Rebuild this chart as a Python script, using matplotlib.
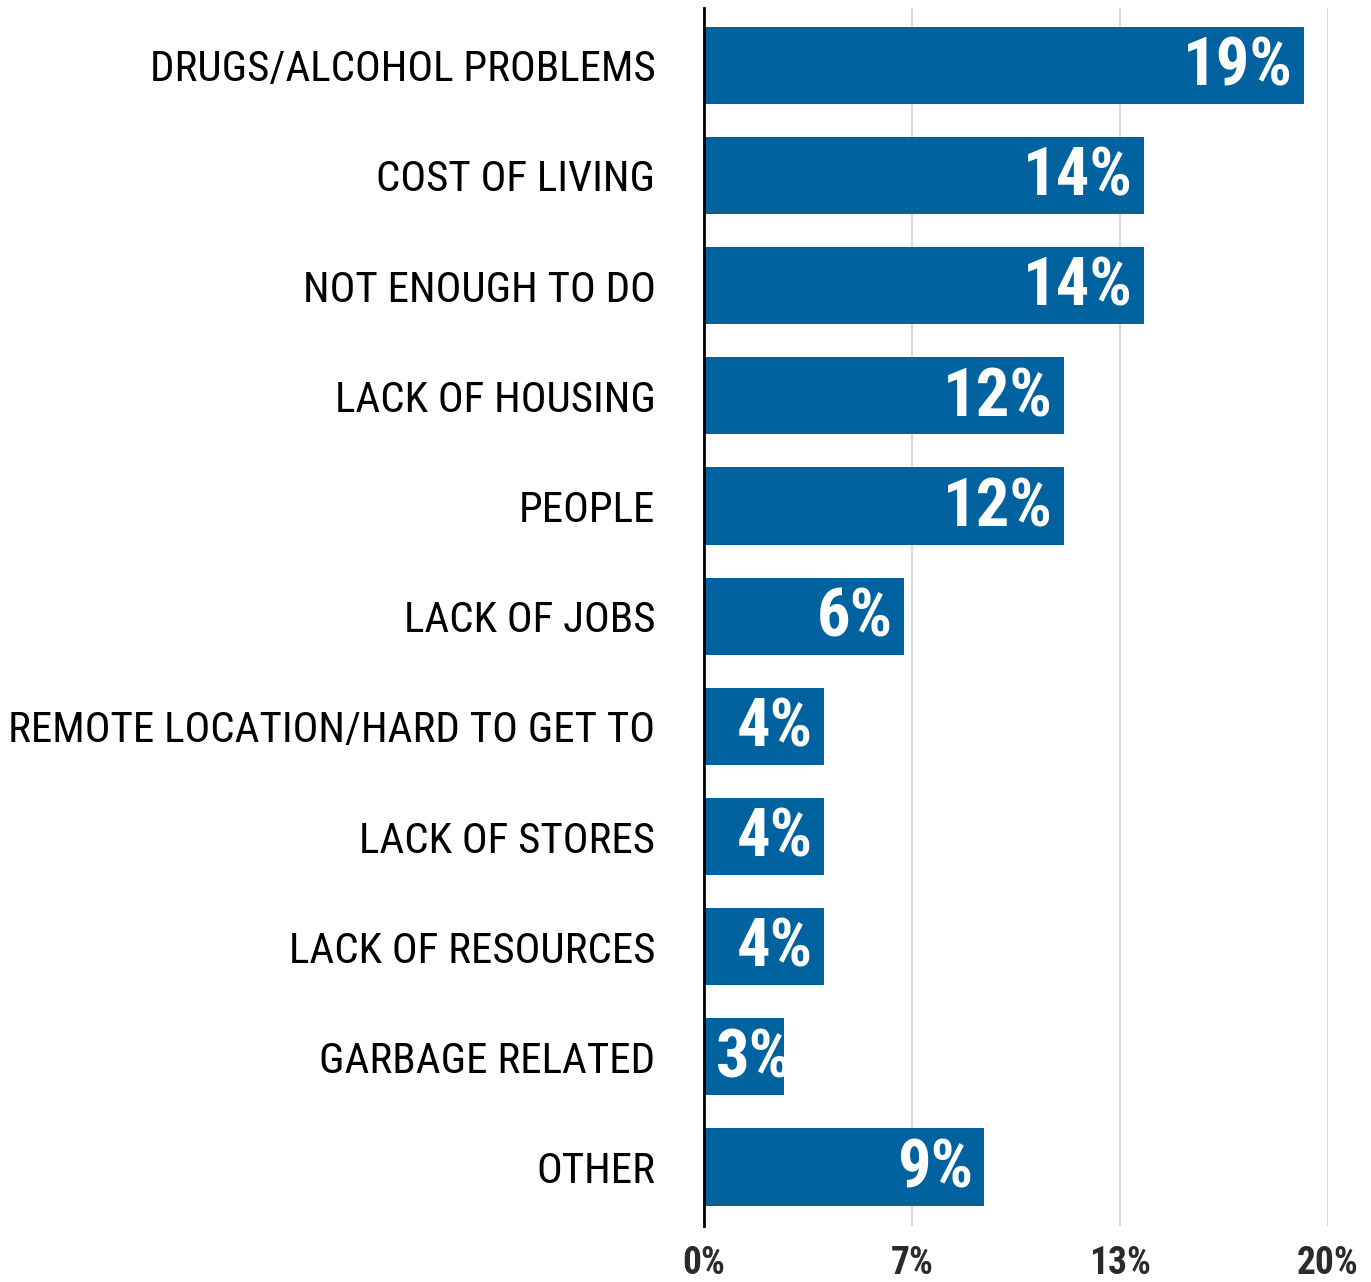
import matplotlib
matplotlib.use("Agg")
import matplotlib.pyplot as plt
from matplotlib import font_manager
from matplotlib.transforms import offset_copy

# Survey responses: share of respondents (%) naming each problem
categories = [
    "Drugs/Alcohol Problems",
    "Cost of Living",
    "Not enough to do",
    "Lack of Housing",
    "People",
    "Lack of jobs",
    "Remote location/hard to get to",
    "Lack of stores",
    "Lack of resources",
    "Garbage related",
    "Other",
]
shares = [19.23, 14.10, 14.10, 11.54, 11.54, 6.41, 3.85, 3.85, 3.85, 2.56, 8.97]
tick_values = [0, 20 / 3, 40 / 3, 20]
tick_labels = ["0%", "7%", "13%", "20%"]

BAR_COLOR = "#0063a0"

# Prefer a narrow sans face for the condensed look
available = {f.name for f in font_manager.fontManager.ttflist}
family = "DejaVu Sans"
for cand in ["Roboto Condensed", "Liberation Sans Narrow", "Open Sans Condensed"]:
    if cand in available:
        family = cand
        break
plt.rcParams["font.family"] = [family, "DejaVu Sans"]

fig = plt.figure(figsize=(13.71, 12.82), dpi=100)
ax = fig.add_axes([704 / 1371, 1 - 1226 / 1282, (1328 - 704) / 1371, (1226 - 8) / 1282])

ypos = list(range(len(categories)))
bars = ax.barh(ypos, shares, height=0.7, color=BAR_COLOR, zorder=2)

ax.set_xlim(0, 20)
ax.set_ylim(len(categories) - 1 + 0.535, -0.52)

ax.set_yticks(ypos)
ax.set_yticklabels([c.upper() for c in categories], fontsize=31, color="black")
ax.tick_params(axis="y", length=0, pad=35)

ax.set_xticks(tick_values)
ax.set_xticklabels(tick_labels, fontsize=27, fontweight="bold", color="#2b2b2b")
ax.tick_params(axis="x", length=0, pad=14)

ax.grid(axis="x", color="#d9d9d9", linewidth=1.5, zorder=0)
ax.set_axisbelow(True)
for side in ["top", "right", "bottom"]:
    ax.spines[side].set_visible(False)
ax.spines["left"].set_color("black")
ax.spines["left"].set_linewidth(2)
ax.spines["left"].set_zorder(4)

# Value labels inside the bar ends, clipped to the bar; short bars get the
# label pinned near the bar start instead
fig.canvas.draw()
renderer = fig.canvas.get_renderer()
for rect, val, y in zip(bars, shares, ypos):
    label = f"{round(val)}%"
    t = ax.text(val, y + 0.02, label, ha="right", va="center",
                transform=offset_copy(ax.transData, fig=fig, x=-11, y=0, units="dots"),
                color="white", fontsize=48, fontweight="bold", zorder=3)
    bb = t.get_window_extent(renderer)
    x0 = ax.transData.transform((0, 0))[0]
    if bb.x0 < x0 + 12:
        t.remove()
        t = ax.text(0, y + 0.02, label, ha="left", va="center",
                    transform=offset_copy(ax.transData, fig=fig, x=12, y=0, units="dots"),
                    color="white", fontsize=48, fontweight="bold", zorder=3)
    t.set_clip_path(rect)

fig.savefig("out.png", dpi=100)
